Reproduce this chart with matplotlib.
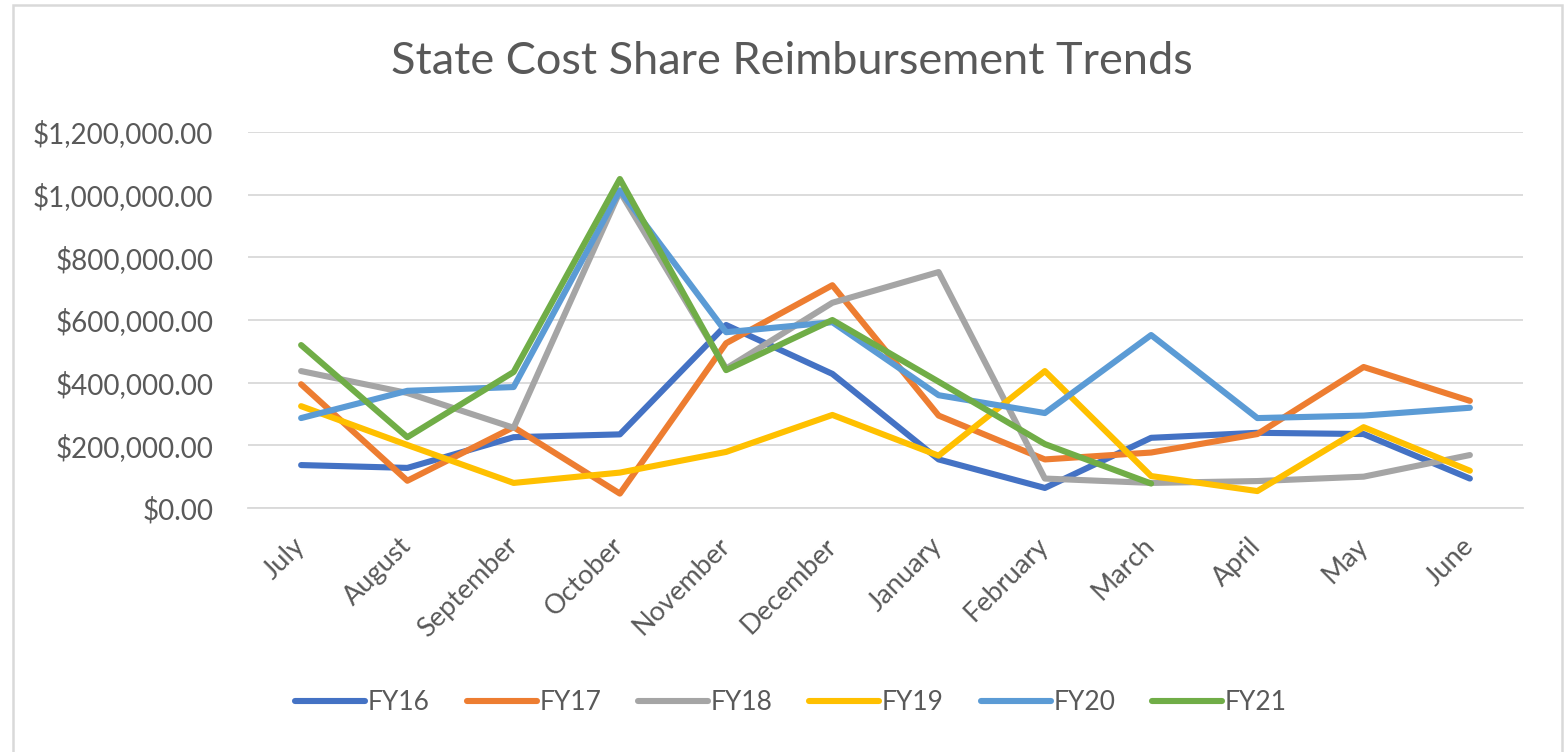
import matplotlib
matplotlib.use("Agg")
import matplotlib.pyplot as plt
from matplotlib.patches import Rectangle
from matplotlib.ticker import FuncFormatter, MultipleLocator
from matplotlib.transforms import ScaledTranslation
import numpy as np

months = ["July", "August", "September", "October", "November", "December",
          "January", "February", "March", "April", "May", "June"]

fy16 = [137000, 128000, 226000, 235000, 584000, 428000, 155000, 64000, 224000, 240000, 236000, 94000]
fy17 = [395000, 87000, 258000, 46000, 526000, 711000, 295000, 155000, 177000, 236000, 450000, 342000]
fy18 = [437000, 367000, 256000, 1010000, 445000, 655000, 753000, 94000, 80000, 86000, 100000, 169000]
fy19 = [325000, 201000, 80000, 113000, 179000, 297000, 167000, 437000, 102000, 54000, 258000, 119000]
fy20 = [287000, 374000, 386000, 1014000, 561000, 593000, 360000, 303000, 552000, 287000, 295000, 320000]
fy21 = [520000, 226000, 434000, 1050000, 440000, 600000, 403000, 204000, 78000]

series_names = ["FY16", "FY17", "FY18", "FY19", "FY20", "FY21"]
series_values = [fy16, fy17, fy18, fy19, fy20, fy21]
colors = ["#4472C4", "#ED7D31", "#A5A5A5", "#FFC000", "#5B9BD5", "#70AD47"]

FONT = "Lato"
TXT = "#595959"
plt.rcParams["font.family"] = [FONT, "DejaVu Sans"]

W, H = 1564, 752
fig = plt.figure(figsize=(W / 100, H / 100), dpi=100)
fig.patch.set_facecolor("white")

# outer chart border
fig.patches.append(Rectangle((13 / W, -0.05), (1562 - 13) / W, 1.05 - 5 / H,
                             transform=fig.transFigure, fill=False,
                             edgecolor="#D9D9D9", linewidth=1.8))

ax = fig.add_axes([248 / W, 1 - 508 / H, (1523 - 248) / W, (508 - 132) / H])
x = np.arange(len(months))
for name, vals, c in zip(series_names, series_values, colors):
    ax.plot(x[:len(vals)], vals, color=c, linewidth=4.4, label=name,
            solid_joinstyle="round", solid_capstyle="round")

ax.set_xlim(-0.5, len(months) - 0.5)
ax.set_ylim(0, 1200000)
ax.yaxis.set_major_locator(MultipleLocator(200000))
ax.yaxis.set_major_formatter(FuncFormatter(lambda v, p: "${:,.2f}".format(v)))
ax.grid(axis="y", color="#D9D9D9", linewidth=1.3)
ax.set_axisbelow(True)
for s in ["top", "right", "left"]:
    ax.spines[s].set_visible(False)
ax.spines["bottom"].set_color("#D9D9D9")
ax.spines["bottom"].set_linewidth(1.3)
ax.tick_params(axis="both", length=0, colors=TXT)
ax.tick_params(axis="y", pad=25, labelsize=20)
ax.set_xticks(x)
ax.set_xticklabels(months, rotation=45, ha="right", rotation_mode="anchor")
ax.tick_params(axis="x", pad=18, labelsize=19.5)
off = ScaledTranslation(-9 / 100, 0, fig.dpi_scale_trans)
for lbl in ax.get_xticklabels():
    lbl.set_transform(lbl.get_transform() + off)

fig.text(792 / W, 1 - 62 / H, "State Cost Share Reimbursement Trends",
         ha="center", va="center", fontsize=32.5, color=TXT)

leg = fig.legend(loc="center", bbox_to_anchor=(791 / W, 1 - 703 / H), ncol=6,
                 frameon=False, fontsize=19, handlelength=2.65,
                 handletextpad=0.1, columnspacing=1.4, labelcolor=TXT)

fig.savefig("out.png", dpi=100, facecolor="white")
